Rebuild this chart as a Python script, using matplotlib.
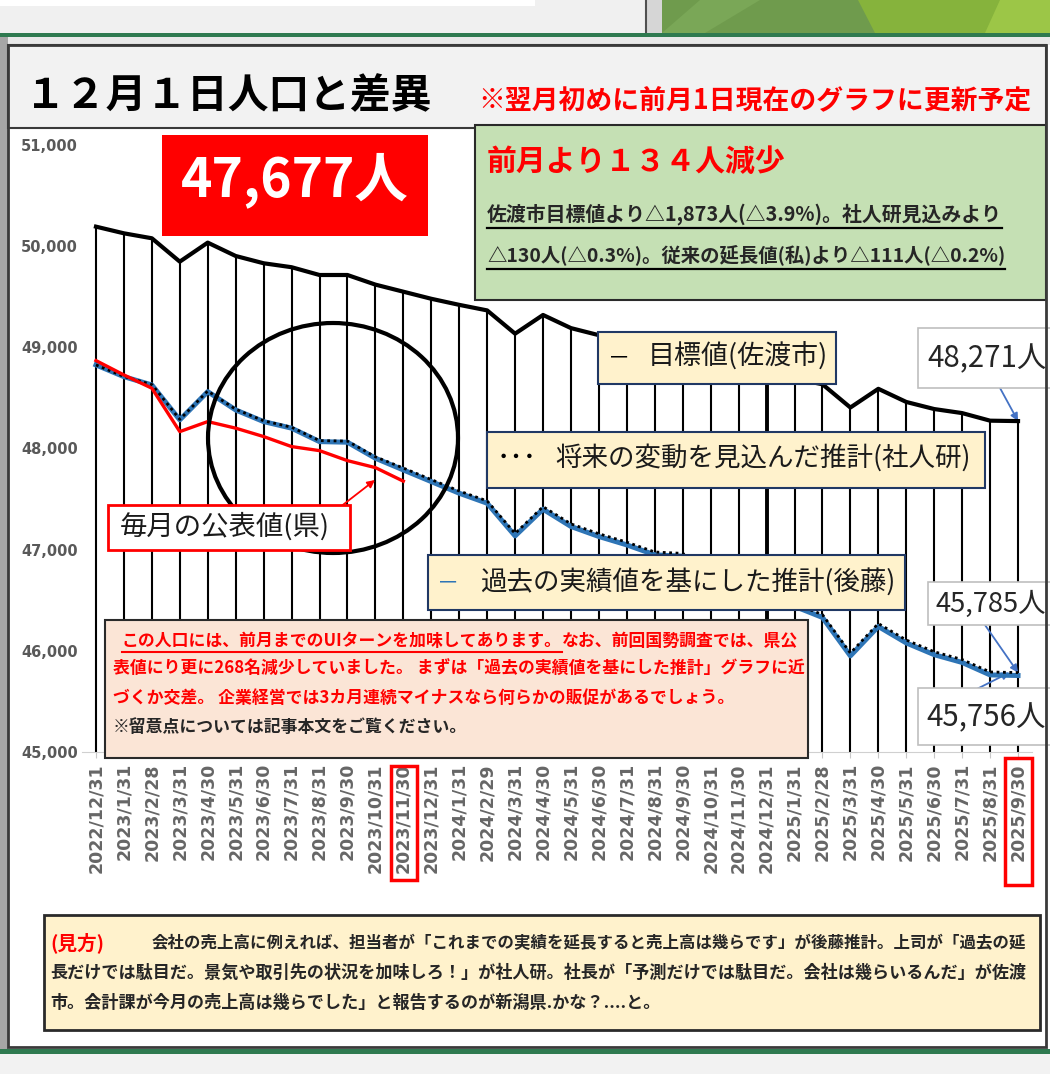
import matplotlib
matplotlib.use("Agg")
import matplotlib.pyplot as plt
from matplotlib import transforms
from matplotlib.patches import Rectangle, Ellipse, Polygon
from matplotlib.lines import Line2D

W, H = 1050, 1074

# ---------------- data ----------------
dates = ["2022/12/31", "2023/1/31", "2023/2/28", "2023/3/31", "2023/4/30", "2023/5/31",
         "2023/6/30", "2023/7/31", "2023/8/31", "2023/9/30", "2023/10/31", "2023/11/30",
         "2023/12/31", "2024/1/31", "2024/2/29", "2024/3/31", "2024/4/30", "2024/5/31",
         "2024/6/30", "2024/7/31", "2024/8/31", "2024/9/30", "2024/10/31", "2024/11/30",
         "2024/12/31", "2025/1/31", "2025/2/28", "2025/3/31", "2025/4/30", "2025/5/31",
         "2025/6/30", "2025/7/31", "2025/8/31", "2025/9/30"]

target_sado = [50193, 50127, 50078, 49847, 50035, 49903, 49831, 49792, 49715, 49715,
               49620, 49550, 49480, 49420, 49365, 49135, 49320, 49190, 49120, 49080,
               49005, 49005, 48895, 48820, 48750, 48690, 48635, 48405, 48590, 48460,
               48390, 48350, 48275, 48271]

ipss_est = [48826, 48712, 48632, 48288, 48568, 48388, 48274, 48210, 48078, 48073,
            47918, 47807, 47693, 47580, 47482, 47160, 47425, 47255, 47157, 47074,
            46977, 46963, 46813, 46714, 46588, 46468, 46358, 45978, 46270, 46107,
            45991, 45914, 45791, 45785]

goto_est = [48826, 48710, 48628, 48283, 48562, 48381, 48266, 48201, 48068, 48062,
            47904, 47788, 47673, 47558, 47459, 47136, 47400, 47229, 47130, 47047,
            46949, 46935, 46785, 46686, 46560, 46440, 46330, 45950, 46241, 46078,
            45962, 45885, 45762, 45756]

ken_actual = [48869, 48727, 48596, 48167, 48266, 48201, 48118, 48019, 47979, 47880,
              47811, 47677]

ytick_values = [45000, 46000, 47000, 48000, 49000, 50000, 51000]
highlight_idx = [11, 33]
thick_idx = 24

plt.rcParams['font.family'] = ['Noto Sans CJK JP', 'DejaVu Sans']

fig = plt.figure(figsize=(W / 100, H / 100), dpi=100)
fig.patch.set_facecolor('white')
T = transforms.Affine2D().scale(1 / W, -1 / H).translate(0, 1) + fig.transFigure
R = fig.canvas.get_renderer()


def rect(x0, y0, x1, y1, fc='none', ec='none', lw=0, z=1):
    r = Rectangle((x0, y0), x1 - x0, y1 - y0, transform=T, facecolor=fc,
                  edgecolor=ec, linewidth=lw, zorder=z)
    fig.add_artist(r)
    return r


def poly(pts, fc, z=1):
    p = Polygon(pts, closed=True, transform=T, facecolor=fc, edgecolor='none', zorder=z)
    fig.add_artist(p)


def line(xs, ys, color, lw, z=4):
    fig.add_artist(Line2D(xs, ys, transform=T, color=color, lw=lw, zorder=z))


def txt(x, y, s, size, width=None, **kw):
    kw.setdefault('va', 'center')
    t = fig.text(x, y, s, transform=T, fontsize=size, **kw)
    if width:
        w = t.get_window_extent(R).width
        t.set_fontsize(size * width / w)
    return t


def wid(t):
    return t.get_window_extent(R).width


# ---------------- slide background ----------------
rect(0, 0, 1050, 33, fc='#f0f0f0', z=0.5)
rect(0, 0, 535, 6, fc='white', z=0.6)
line([646, 646], [0, 33], '#505050', 1.5, z=0.7)
rect(647, 0, 662, 33, fc='#d6d6d6', z=0.6)
poly([(662, 0), (1050, 0), (1050, 33), (662, 33)], '#6f9b4d', z=0.6)
poly([(662, 33), (700, 0), (760, 0), (705, 33)], '#7aa757', z=0.65)
poly([(858, 0), (1000, 0), (1000, 33), (875, 33)], '#86b33c', z=0.65)
poly([(1000, 0), (1050, 0), (1050, 33), (985, 33)], '#9cc647', z=0.66)
rect(0, 33, 1050, 37, fc='#2f7a50', z=0.7)
rect(0, 37, 1050, 45, fc='#e9e9e9', z=0.6)
rect(0, 37, 8, 1049, fc='#a6a6a6', z=0.6)
rect(0, 1049, 1050, 1054, fc='#2f7a50', z=0.7)
rect(0, 1054, 1050, 1074, fc='#f2f2f2', z=0.6)

# ---------------- axes ----------------
ax = fig.add_axes([82 / W, (H - 752) / H, 950 / W, 607 / H])
ax.set_zorder(0)
x = list(range(len(dates)))
ax.set_xlim(-0.5, len(dates) - 0.5)
ax.set_ylim(45000, 51000)
for s in ['top', 'right', 'left']:
    ax.spines[s].set_visible(False)
ax.spines['bottom'].set_color('#d0d0d0')
ax.set_yticks(ytick_values)
ax.set_yticklabels([f"{v:,}" for v in ytick_values], fontsize=10.5, color='#595959',
                   fontweight='bold', family='DejaVu Sans')
ax.tick_params(axis='y', length=0, pad=3)
ax.set_xticks(x)
ax.set_xticklabels(dates, rotation=90, fontsize=12.5, color='#666666',
                   fontweight='bold', family='DejaVu Sans', va='top')
ax.tick_params(axis='x', length=4, color='#c8c8c8', pad=4)

lws = [2.8 if i == thick_idx else 1.5 for i in x]
ax.vlines(x, 45000, target_sado, colors='black', linewidths=lws, zorder=2)
ax.plot(x, target_sado, color='black', lw=3, zorder=4, solid_joinstyle='round')
ax.plot(x, goto_est, color='#2e75b6', lw=3.6, zorder=5)
ax.plot(x, ipss_est, color='black', lw=2.0, ls=(0, (1, 1.3)), zorder=6)
ax.plot(x[:len(ken_actual)], ken_actual, color='#ff0000', lw=2.4, zorder=7)

arrow_blue = dict(arrowstyle='-|>', color='#4472c4', lw=1.3, mutation_scale=11,
                  shrinkA=0, shrinkB=0)
ax.annotate('', xy=(x[-1], target_sado[-1]), xytext=(1000, 388), textcoords=T,
            arrowprops=arrow_blue, annotation_clip=False)
ax.annotate('', xy=(x[-1], ipss_est[-1]), xytext=(985, 625), textcoords=T,
            arrowprops=arrow_blue, annotation_clip=False)
ax.annotate('', xy=(x[-1] - 0.3, goto_est[-1] + 30), xytext=(955, 700), textcoords=T,
            arrowprops=arrow_blue, annotation_clip=False)

# highlight boxes around x labels
B = transforms.blended_transform_factory(ax.transData, T)
for i, (y0, y1) in zip(highlight_idx, [(766, 880), (758, 885)]):
    fig.add_artist(Rectangle((i - 0.45, y0), 0.95, y1 - y0, transform=B, facecolor='none',
                             edgecolor='#ff0000', linewidth=2.5, zorder=3))

# ---------------- chart frame & title ----------------
rect(8, 45, 1046, 128, fc='#f2f2f2', ec='#3a3a3a', lw=1.5, z=1)
rect(8, 45, 1046, 1047, fc='none', ec='#3a3a3a', lw=2, z=1.9)
txt(25, 96, "１２月１日人口と差異", 30, width=407, fontweight='bold', color='black')
txt(478, 100, "※翌月初めに前月1日現在のグラフに更新予定", 20, width=552,
    fontweight='bold', color='#ff0000')

# big red box
rect(162, 135, 428, 236, fc='#ff0000', z=1.2)
txt(295, 180, f"{ken_actual[-1]:,}人", 44, width=228, fontweight='bold', color='white',
    ha='center')

# green summary box
rect(475, 125, 1046, 300, fc='#c5e0b4', ec='#2a2a2a', lw=1.5, z=1.2)
txt(487, 162, "前月より１３４人減少", 21, width=298, fontweight='bold', color='#ff0000')
t1 = txt(487, 214, "佐渡市目標値より△1,873人(△3.9%)。社人研見込みより", 14, width=516,
         color='#262626', fontweight='bold')
line([487, 487 + wid(t1)], [228, 228], 'black', 1.6)
t2 = txt(487, 255, "△130人(△0.3%)。従来の延長値(私)より△111人(△0.2%)", 14, width=520,
         color='#262626', fontweight='bold')
line([487, 487 + wid(t2)], [269, 269], 'black', 1.6)

# legend-like labels
leg_fc, leg_ec = '#fff2cc', '#203864'
rect(598, 332, 836, 384, fc=leg_fc, ec=leg_ec, lw=1.5, z=1.2)
txt(608, 358, "－", 16, color='black')
txt(648, 356, "目標値(佐渡市)", 18, width=180, color='#1a1a1a')

rect(487, 432, 985, 488, fc=leg_fc, ec=leg_ec, lw=1.5, z=1.2)
txt(497, 458, "･･･", 16, width=40, color='black')
txt(555, 458, "将来の変動を見込んだ推計(社人研)", 18, width=416, color='#1a1a1a')

rect(428, 555, 905, 610, fc=leg_fc, ec=leg_ec, lw=1.5, z=1.2)
txt(437, 583, "－", 16, color='#2e75b6')
txt(480, 582, "過去の実績値を基にした推計(後藤)", 18, width=415, color='#1a1a1a')

# value callouts
for (x0, y0, x1, y1), val, tx in [((918, 328, 1052, 388), target_sado[-1], 927),
                                  ((928, 582, 1052, 625), ipss_est[-1], 935),
                                  ((918, 688, 1052, 745), goto_est[-1], 926)]:
    rect(x0, y0, x1, y1, fc='white', ec='#bfbfbf', lw=1.2, z=1.2)
    txt(tx, (y0 + y1) / 2 + 1, f"{val:,}人", 18, width=1046 - tx, color='#262626')

# circle
fig.add_artist(Ellipse((333, 438), 250, 230, transform=T, facecolor='none',
                       edgecolor='black', linewidth=3, zorder=1.1))

# ken label
rect(108, 505, 350, 550, fc='white', ec='#ff0000', lw=2, z=1.3)
txt(120, 527, "毎月の公表値(県)", 18, width=210, color='#1a1a1a')
ax.annotate('', xy=(375, 480), xycoords=T, xytext=(335, 511), textcoords=T,
            arrowprops=dict(arrowstyle='-|>', color='#ff0000', lw=1.3, mutation_scale=11,
                            shrinkA=0, shrinkB=0), annotation_clip=False)

# pink note box
rect(105, 620, 808, 758, fc='#fbe5d6', ec='#2a2a2a', lw=1.5, z=1.2)
l1a = "この人口には、前月までのUIターンを加味してあります。"
l1b = "なお、前回国勢調査では、県公"
full = txt(122, 641, l1a + l1b, 12, width=673, color='#ff0000', fontweight='bold')
fs = full.get_fontsize()
full.remove()
ta = txt(122, 641, l1a, fs, color='#ff0000', fontweight='bold')
wa = wid(ta)
line([122, 122 + wa], [652, 652], '#ff0000', 1.5)
txt(122 + wa, 641, l1b, fs, color='#ff0000', fontweight='bold')
txt(113, 669, "表値にり更に268名減少していました。 まずは「過去の実績値を基にした推計」グラフに近",
    fs, color='#ff0000', fontweight='bold')
txt(113, 698, "づくか交差。 企業経営では3カ月連続マイナスなら何らかの販促があるでしょう。",
    fs, color='#ff0000', fontweight='bold')
txt(113, 727, "※留意点については記事本文をご覧ください。", fs,
    color='#262626', fontweight='bold')

# bottom explanation box
rect(44, 915, 1040, 1030, fc='#fff2cc', ec='#2a2a2a', lw=2, z=1.2)
t_l2 = txt(50, 973, "長だけでは駄目だ。景気や取引先の状況を加味しろ！」が社人研。社長が「予測だけでは駄目だ。会社は幾らいるんだ」が佐渡",
           12, width=972, color='#262626', fontweight='bold')
fb = t_l2.get_fontsize()
txt(50, 943, "(見方)", fb * 1.15, color='#ff0000', fontweight='bold')
txt(152, 943, "会社の売上高に例えれば、担当者が「これまでの実績を延長すると売上高は幾らです」が後藤推計。上司が「過去の延",
    fb, width=874, color='#262626', fontweight='bold')
txt(50, 1003, "市。会計課が今月の売上高は幾らでした」と報告するのが新潟県.かな？....と。",
    fb, color='#262626', fontweight='bold')

fig.savefig("out.png", dpi=100, facecolor=fig.get_facecolor())
